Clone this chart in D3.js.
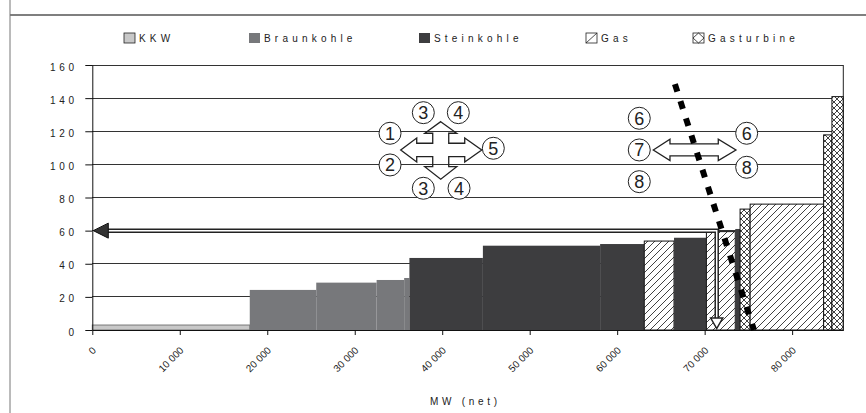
<!DOCTYPE html>
<html lang="de">
<head>
<meta charset="UTF-8">
<title>Merit Order</title>
<script src="https://d3js.org/d3.v7.min.js"></script>
<style>
  body { margin: 0; background: #fff; }
  svg { display: block; font-family: "Liberation Sans", Arial, sans-serif; }
  text { fill: #222; }
</style>
</head>
<body>
<svg id="chart" width="866" height="413"></svg>
<script>
// Kraftwerkstypen in der Legende
var categories = ["KKW", "Braunkohle", "Steinkohle", "Gas", "Gasturbine"];

// Merit-Order-Bloecke: Typ, kumulierte Leistung am Blockende (MW), Grenzkosten
var blockType = ["KKW", "Braunkohle", "Braunkohle", "Braunkohle", "Braunkohle",
  "Steinkohle", "Steinkohle", "Steinkohle", "Gas", "Steinkohle", "Gas", "Steinkohle",
  "Gasturbine", "Gas", "Gasturbine", "Gasturbine"];
var blockEndMW = [18000, 25600, 32500, 35650, 36250, 44650, 58050, 63100,
  66500, 70200, 73500, 74050, 75200, 83600, 84550, 85850];
var blockCost = [3, 24.2, 28.6, 30.2, 31.4, 43.5, 50.9, 51.9,
  53.7, 55.7, 59.4, 61, 73, 76, 117.8, 140.9];

var xTicks = [0, 10000, 20000, 30000, 40000, 50000, 60000, 70000, 80000];
var yTicks = [0, 20, 40, 60, 80, 100, 120, 140, 160];

// Annotationen (in Datenkoordinaten)
var priceLevel = 60;
var marginalMW = 71380;
var demandLine = [[66600, 148.5], [75640, 0]];
var crossAnchor = [39830, 108.7];
var swapAnchor = [68860, 108.7];

var svg = d3.select("#chart");

var x = d3.scaleLinear().domain([0, 85850]).range([92.3, 843.3]);
var y = d3.scaleLinear().domain([0, 160]).range([330, 65]);

// patterns
var defs = svg.append("defs");
var pg = defs.append("pattern").attr("id", "hatch-gas")
  .attr("patternUnits", "userSpaceOnUse").attr("width", 7).attr("height", 7);
pg.append("rect").attr("width", 7).attr("height", 7).attr("fill", "#fff");
pg.append("path").attr("d", "M-1,1 l2,-2 M0,7 l7,-7 M6,8 l2,-2")
  .attr("stroke", "#111").attr("stroke-width", 0.8);

var pt = defs.append("pattern").attr("id", "hatch-gt")
  .attr("patternUnits", "userSpaceOnUse").attr("width", 6).attr("height", 6);
pt.append("rect").attr("width", 6).attr("height", 6).attr("fill", "#fff");
pt.append("path").attr("d", "M-1,1 l2,-2 M0,6 l6,-6 M5,7 l2,-2 M-1,5 l2,2 M0,0 l6,6 M5,-1 l2,2")
  .attr("stroke", "#111").attr("stroke-width", 0.8);

var fills = { "KKW": "#c8c8c8", "Braunkohle": "#77787b", "Steinkohle": "#3d3d3f",
  "Gas": "url(#hatch-gas)", "Gasturbine": "url(#hatch-gt)" };
var strokes = { "KKW": "#777", "Braunkohle": "none", "Steinkohle": "none",
  "Gas": "#111", "Gasturbine": "#111" };

// outer frame
svg.append("line").attr("x1", 10).attr("x2", 866).attr("y1", 15).attr("y2", 15)
  .attr("stroke", "#555").attr("stroke-width", 1.3);
svg.append("line").attr("x1", 10).attr("x2", 10).attr("y1", 0).attr("y2", 413)
  .attr("stroke", "#777").attr("stroke-width", 1);

// legend
var legendX = [124, 249, 419, 586, 693];
var legend = svg.append("g").attr("class", "legend");
categories.forEach(function(c, i) {
  var g = legend.append("g").attr("transform", "translate(" + legendX[i] + ",33)");
  g.append("rect").attr("width", 11).attr("height", 10)
    .attr("fill", (c == "Gas" || c == "Gasturbine") ? "#fff" : fills[c])
    .attr("stroke", strokes[c] == "none" ? "none" : "#222").attr("stroke-width", 0.8);
  if (c == "Gas") {
    g.append("line").attr("x1", 0).attr("y1", 10).attr("x2", 11).attr("y2", 0)
      .attr("stroke", "#222").attr("stroke-width", 0.8);
  }
  if (c == "Gasturbine") {
    g.append("path").attr("d", "M5.5,0 L11,5 L5.5,10 L0,5 Z")
      .attr("fill", "none").attr("stroke", "#222").attr("stroke-width", 0.8);
  }
  g.append("text").attr("x", 15).attr("y", 8.6)
    .attr("font-size", 10).attr("letter-spacing", 4.2).text(c);
});

// gridlines
svg.append("g").selectAll("line")
  .data(yTicks.slice(1))
  .enter().append("line")
  .attr("x1", x(0)).attr("x2", x(85850))
  .attr("y1", d => y(d)).attr("y2", d => y(d))
  .attr("stroke", "#333").attr("stroke-width", 1)
  .attr("shape-rendering", "crispEdges");

// bars
var blocks = blockEndMW.map(function(e, i) {
  return { type: blockType[i], start: i == 0 ? 0 : blockEndMW[i - 1], end: e, cost: blockCost[i] };
});
svg.append("g").selectAll("rect")
  .data(blocks)
  .enter().append("rect")
  .attr("x", d => x(d.start))
  .attr("y", d => y(d.cost))
  .attr("width", d => x(d.end) - x(d.start))
  .attr("height", d => y(0) - y(d.cost))
  .attr("fill", d => fills[d.type])
  .attr("stroke", d => strokes[d.type])
  .attr("stroke-width", 1);

// right border
svg.append("line").attr("x1", x(85850)).attr("x2", x(85850))
  .attr("y1", y(160)).attr("y2", y(0)).attr("stroke", "#222").attr("stroke-width", 1);

// axes
var spaceFmt = d => d3.format(",")(d).replace(/,/g, " ");
var xAxis = svg.append("g")
  .attr("transform", "translate(0," + y(0) + ")")
  .call(d3.axisBottom(x).tickValues(xTicks).tickSize(5).tickSizeOuter(0).tickFormat(spaceFmt));
xAxis.selectAll("text")
  .attr("x", 0).attr("y", 0).attr("dy", 0)
  .attr("transform", "translate(4,21) rotate(-45)")
  .style("text-anchor", "end")
  .style("font-size", "10px")
  .attr("font-family", "Liberation Sans, Arial, sans-serif")
  .attr("fill", "#333");

var yAxis = svg.append("g")
  .attr("transform", "translate(" + x(0) + ",0)")
  .call(d3.axisLeft(y).tickValues(yTicks).tickSize(7).tickSizeOuter(0));
yAxis.selectAll("text")
  .attr("x", -14.7).attr("dy", "0.5em")
  .style("font-size", "10px").attr("letter-spacing", 3.6)
  .attr("font-family", "Liberation Sans, Arial, sans-serif")
  .attr("fill", "#222");
svg.selectAll(".domain, .tick line").attr("stroke", "#111");

svg.append("text").attr("class", "axis-title")
  .attr("x", 430).attr("y", 405)
  .attr("font-size", 10).attr("letter-spacing", 3.7)
  .text("MW (net)");

// circled numbers
function circled(cx, cy, label) {
  svg.append("circle").attr("cx", cx).attr("cy", cy).attr("r", 11)
    .attr("fill", "#fff").attr("stroke", "#222").attr("stroke-width", 1);
  svg.append("text").attr("x", cx).attr("y", cy).attr("dy", "0.36em")
    .attr("text-anchor", "middle").attr("font-size", 18).text(label);
}

// four-way arrow
var cx = x(crossAnchor[0]), cy = y(crossAnchor[1]);
var cross = [[0,-28.3],[16,-16.7],[8,-16.7],[8,-6.7],[24,-6.7],[24,-12],[41,0],[24,12],[24,6.7],
  [8,6.7],[8,16.7],[16,16.7],[0,29.3],[-16,16.7],[-8,16.7],[-8,6.7],[-24,6.7],[-24,12],[-40,0],
  [-24,-12],[-24,-6.7],[-8,-6.7],[-8,-16.7],[-16,-16.7]];
svg.append("path")
  .attr("d", d3.line()(cross.map(p => [cx + p[0], cy + p[1]])) + "Z")
  .attr("fill", "none").attr("stroke", "#222").attr("stroke-width", 1.3);
circled(cx - 17.4, cy - 37.3, "3");
circled(cx + 17.6, cy - 37.3, "4");
circled(cx - 50.7, cy - 16.7, "1");
circled(cx + 52.6, cy - 1.7, "5");
circled(cx - 50.7, cy + 15, "2");
circled(cx - 17.4, cy + 38.3, "3");
circled(cx + 18.3, cy + 38.3, "4");

// double arrow (swap)
var sx = x(swapAnchor[0]), sy = y(swapAnchor[1]);
var swap = [[-41.4,0],[-24.7,-10.7],[-24.7,-6],[23.6,-6],[23.6,-10.7],[41.3,0],[23.6,10.7],
  [23.6,6],[-24.7,6],[-24.7,10.7]];
svg.append("path")
  .attr("d", d3.line()(swap.map(p => [sx + p[0], sy + p[1]])) + "Z")
  .attr("fill", "#fff").attr("stroke", "#222").attr("stroke-width", 1.3);
circled(sx - 55.4, sy - 31.7, "6");
circled(sx - 55.4, sy, "7");
circled(sx - 55.4, sy + 31.7, "8");
circled(sx + 52, sy - 16.7, "6");
circled(sx + 52, sy + 17.3, "8");

// price arrow: from marginal plant to the y axis, and down to the x axis
var px = x(marginalMW), py = y(priceLevel);
var shaft = "M" + (x(0) + 15) + "," + py + " L" + px + "," + py + " L" + px + "," + (y(0) - 11);
svg.append("path").attr("d", shaft).attr("fill", "none")
  .attr("stroke", "#222").attr("stroke-width", 4.5);
svg.append("path").attr("d", shaft).attr("fill", "none")
  .attr("stroke", "#fff").attr("stroke-width", 1.5);
svg.append("path")
  .attr("d", "M" + (x(0) + 1) + "," + py + " L" + (x(0) + 16) + "," + (py - 7.5) +
    " L" + (x(0) + 16) + "," + (py + 7.5) + "Z")
  .attr("fill", "#333").attr("stroke", "#111").attr("stroke-width", 1);
svg.append("path")
  .attr("d", "M" + (px - 6) + "," + (y(0) - 12) + " L" + (px + 6) + "," + (y(0) - 12) +
    " L" + px + "," + (y(0) - 1.5) + "Z")
  .attr("fill", "#fff").attr("stroke", "#222").attr("stroke-width", 1.5);

// demand line
svg.append("path")
  .attr("d", d3.line()(demandLine.map(p => [x(p[0]), y(p[1])])))
  .attr("fill", "none").attr("stroke", "#000").attr("stroke-width", 6)
  .attr("stroke-dasharray", "8,10");
</script>
</body>
</html>
